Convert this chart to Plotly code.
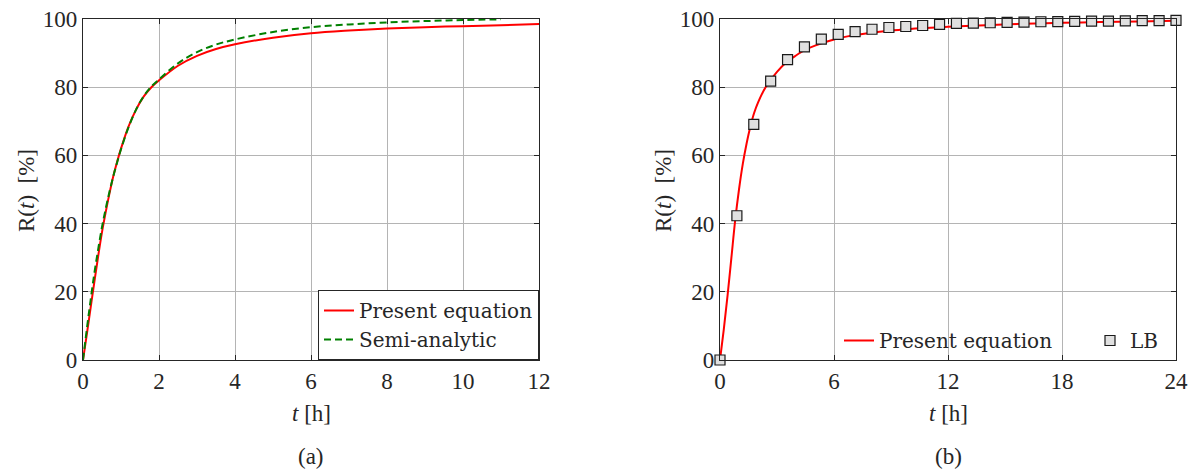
import plotly.graph_objects as go

# ---- Panel (a): release vs time, 0-12 h ----
t_present_a = [0, 0.1, 0.2, 0.3, 0.4, 0.5, 0.6, 0.7, 0.8, 0.9, 1.0, 1.2, 1.4, 1.6, 1.8, 2.0,
               2.5, 3.0, 3.5, 4.0, 5.0, 6.0, 7.0, 8.0, 9.0, 10.0, 11.0, 12.0]
r_present_a = [0, 7.5, 15.3, 23.0, 30.5, 37.5, 43.5, 49.0, 54.0, 58.2, 62.0, 68.5, 73.5, 77.3, 80.0, 82.0,
               86.3, 89.2, 91.2, 92.6, 94.5, 95.8, 96.6, 97.2, 97.6, 97.9, 98.2, 98.5]

t_semi_a = [0, 0.1, 0.2, 0.3, 0.4, 0.5, 0.6, 0.7, 0.8, 0.9, 1.0, 1.2, 1.4, 1.6, 1.8, 2.0,
            2.5, 3.0, 3.5, 4.0, 5.0, 6.0, 7.0, 8.0, 9.0, 10.0, 11.0]
r_semi_a = [0, 9.0, 17.5, 25.5, 32.5, 39.0, 44.5, 49.5, 54.0, 58.0, 61.8, 68.3, 73.5, 77.4, 80.2, 82.3,
            87.0, 90.3, 92.5, 94.0, 96.2, 97.6, 98.4, 99.0, 99.4, 99.7, 99.9]

# ---- Panel (b): release vs time, 0-24 h ----
t_present_b = [0, 0.2, 0.4, 0.6, 0.8, 1.0, 1.2, 1.4, 1.6, 1.8, 2.0, 2.4, 3.0, 3.5, 4.0, 4.5, 5.0,
               6.0, 7.0, 8.0, 9.0, 10.0, 12.0, 14.0, 16.0, 18.0, 20.0, 22.0, 24.0]
r_present_b = [0, 9.0, 19.0, 30.0, 41.0, 50.0, 57.5, 63.5, 68.5, 72.5, 75.5, 80.0, 84.5, 87.3, 89.3, 91.0, 92.2,
               94.0, 95.2, 96.0, 96.6, 97.1, 97.7, 98.2, 98.6, 98.9, 99.1, 99.3, 99.5]

t_lb = [0, 0.889, 1.778, 2.667, 3.556, 4.444, 5.333, 6.222, 7.111, 8.0, 8.889, 9.778, 10.667, 11.556,
        12.444, 13.333, 14.222, 15.111, 16.0, 16.889, 17.778, 18.667, 19.556, 20.444, 21.333, 22.222,
        23.111, 24.0]
r_lb = [0, 42.3, 69.1, 81.8, 88.1, 91.8, 94.1, 95.5, 96.3, 97.0, 97.5, 97.8, 98.1, 98.4,
        98.7, 98.8, 98.9, 99.0, 99.1, 99.2, 99.25, 99.3, 99.4, 99.4, 99.45, 99.5, 99.5, 99.6]

xticks_a = [0, 2, 4, 6, 8, 10, 12]
xticks_b = [0, 6, 12, 18, 24]
yticks = [0, 20, 40, 60, 80, 100]

W, H = 1192, 470
FONT = "Liberation Serif"
F_LEG = "DejaVu Serif"
TXT = "#262626"

fig = go.Figure()
fig.add_trace(go.Scatter(x=t_present_a, y=r_present_a, mode="lines", name="Present equation",
                         line=dict(color="#ff0000", width=2, shape="spline"),
                         xaxis="x", yaxis="y", legend="legend"))
fig.add_trace(go.Scatter(x=t_semi_a, y=r_semi_a, mode="lines", name="Semi-analytic",
                         line=dict(color="#008000", width=2, dash="7px,4px", shape="spline"),
                         xaxis="x", yaxis="y", legend="legend"))
fig.add_trace(go.Scatter(x=t_present_b, y=r_present_b, mode="lines", name="Present equation",
                         line=dict(color="#ff0000", width=2, shape="spline"),
                         xaxis="x2", yaxis="y2", legend="legend2"))
fig.add_trace(go.Scatter(x=t_lb, y=r_lb, mode="markers", name="LB", cliponaxis=False,
                         marker=dict(symbol="square", size=10, color="#e0e0e0",
                                     line=dict(color="#1a1a1a", width=1.2)),
                         xaxis="x2", yaxis="y2", legend="legend3"))

def px_x(p):
    return p / W

def px_y(p):
    return 1 - p / H

axis_common = dict(showline=True, linecolor=TXT, linewidth=1.2, mirror="ticks", ticks="inside",
                   ticklen=5, tickcolor=TXT, showgrid=True, gridcolor="#b4b4b4", gridwidth=1,
                   zeroline=False, automargin=False, tickfont=dict(family=FONT, size=23, color=TXT))

fig.update_layout(
    width=W, height=H, margin=dict(l=0, r=0, t=0, b=0, autoexpand=False),
    paper_bgcolor="white", plot_bgcolor="white",
    font=dict(family=FONT, size=23, color=TXT),
    xaxis=dict(domain=[px_x(83), px_x(539)], range=[0, 12], tickvals=xticks_a, anchor="y", **axis_common),
    yaxis=dict(domain=[px_y(360), px_y(19)], range=[0, 100], tickvals=yticks, anchor="x", **axis_common),
    xaxis2=dict(domain=[px_x(720), px_x(1176)], range=[0, 24], tickvals=xticks_b, anchor="y2", **axis_common),
    yaxis2=dict(domain=[px_y(360), px_y(19)], range=[0, 100], tickvals=yticks, anchor="x2", **axis_common),
    legend=dict(x=px_x(539), y=px_y(360), xanchor="right", yanchor="bottom",
                bgcolor="white", bordercolor=TXT, borderwidth=1,
                font=dict(family=F_LEG, size=20, color=TXT), tracegroupgap=0),
    legend2=dict(x=px_x(839), y=px_y(360), xanchor="left", yanchor="bottom",
                 bgcolor="rgba(0,0,0,0)", borderwidth=0,
                 font=dict(family=F_LEG, size=20, color=TXT)),
    legend3=dict(x=px_x(1090), y=px_y(360), xanchor="left", yanchor="bottom",
                 bgcolor="rgba(0,0,0,0)", borderwidth=0,
                 font=dict(family=F_LEG, size=20, color=TXT)),
    showlegend=True,
)

ann = [
    dict(text="R(<i>t</i>)&nbsp; [%]", x=px_x(26), y=px_y(191), textangle=-90),
    dict(text="R(<i>t</i>)&nbsp; [%]", x=px_x(663), y=px_y(191), textangle=-90),
    dict(text="<i>t</i> [h]", x=px_x(311), y=px_y(413)),
    dict(text="<i>t</i> [h]", x=px_x(948), y=px_y(413)),
    dict(text="(a)", x=px_x(311), y=px_y(456)),
    dict(text="(b)", x=px_x(948), y=px_y(456)),
]
for a in ann:
    fig.add_annotation(xref="paper", yref="paper", showarrow=False, xanchor="center", yanchor="middle",
                       font=dict(family=FONT, size=23, color=TXT), **a)

fig.write_html("out.html")
